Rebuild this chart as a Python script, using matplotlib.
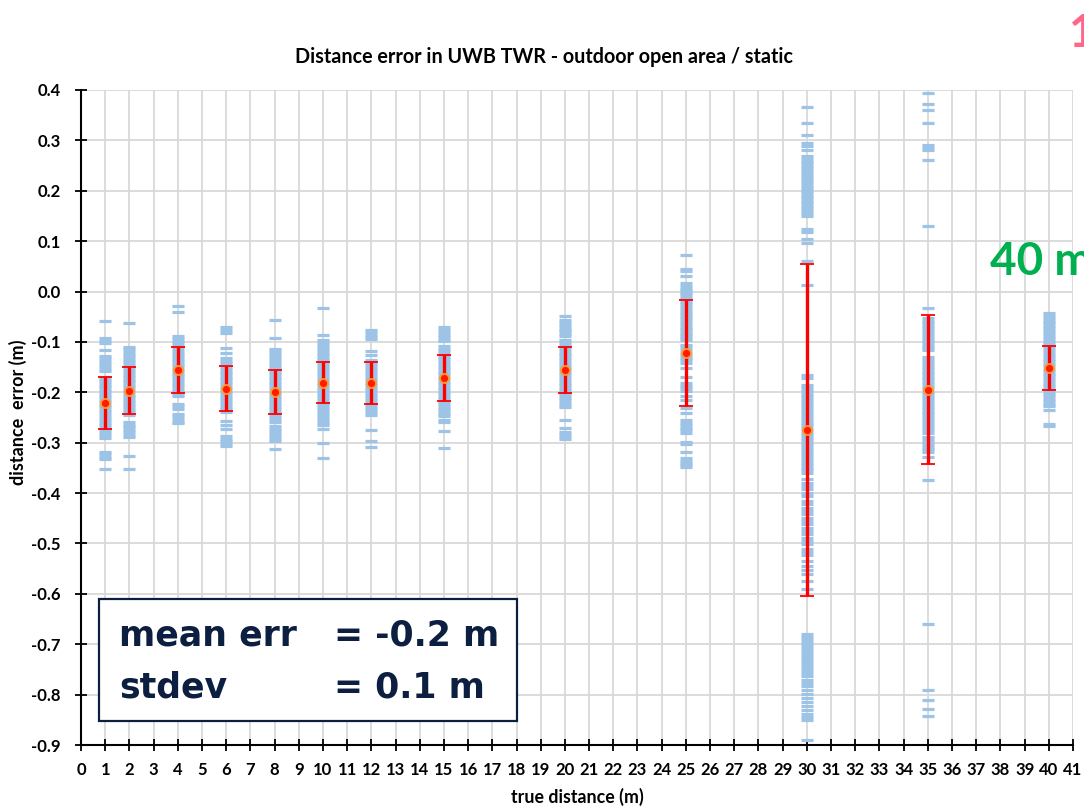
import matplotlib
matplotlib.use('Agg')
import matplotlib.pyplot as plt
from matplotlib.patches import Rectangle

# ---------------- data ----------------
distances = [1, 2, 4, 6, 8, 10, 12, 15, 20, 25, 30, 35, 40]
mean_err = [-0.221, -0.197, -0.156, -0.193, -0.199, -0.181, -0.181, -0.171, -0.156, -0.122, -0.275, -0.195, -0.152]
std_err = [0.051, 0.047, 0.045, 0.045, 0.044, 0.041, 0.042, 0.046, 0.045, 0.106, 0.330, 0.148, 0.043]

d1 = [-0.059, -0.093, -0.098, -0.103, -0.117, -0.127, -0.132, -0.137, -0.142, -0.147, -0.153, -0.157,
      -0.170, -0.175, -0.180, -0.185, -0.190, -0.195, -0.200, -0.205, -0.210, -0.215, -0.220, -0.225,
      -0.230, -0.235, -0.240, -0.245, -0.250, -0.255, -0.260, -0.265, -0.270, -0.275, -0.280, -0.285,
      -0.290, -0.318, -0.323, -0.328, -0.332, -0.352]
d2 = [-0.062, -0.110, -0.115, -0.120, -0.125, -0.130, -0.135, -0.140, -0.145, -0.150, -0.155, -0.160,
      -0.165, -0.170, -0.175, -0.180, -0.185, -0.190, -0.195, -0.200, -0.205, -0.210, -0.215, -0.220,
      -0.225, -0.230, -0.235, -0.240, -0.245, -0.259, -0.264, -0.269, -0.274, -0.279, -0.284, -0.288,
      -0.327, -0.353]
d4 = [-0.028, -0.041, -0.088, -0.093, -0.098, -0.103, -0.108, -0.113, -0.118, -0.123, -0.128, -0.133,
      -0.138, -0.143, -0.148, -0.153, -0.158, -0.163, -0.168, -0.173, -0.178, -0.183, -0.188, -0.193,
      -0.198, -0.203, -0.208, -0.223, -0.228, -0.233, -0.243, -0.248, -0.253, -0.258, -0.261]
d6 = [-0.071, -0.077, -0.083, -0.113, -0.121, -0.132, -0.137, -0.142, -0.149, -0.154, -0.159, -0.164,
      -0.169, -0.174, -0.179, -0.184, -0.189, -0.194, -0.199, -0.204, -0.209, -0.214, -0.219, -0.224,
      -0.229, -0.234, -0.239, -0.256, -0.265, -0.273, -0.287, -0.292, -0.297, -0.302, -0.307]
d8 = [-0.056, -0.093, -0.114, -0.119, -0.124, -0.129, -0.134, -0.139, -0.144, -0.149, -0.154, -0.159,
      -0.164, -0.169, -0.174, -0.179, -0.184, -0.189, -0.194, -0.199, -0.204, -0.209, -0.214, -0.219,
      -0.224, -0.229, -0.234, -0.239, -0.244, -0.249, -0.254, -0.259, -0.266, -0.272, -0.277, -0.282,
      -0.287, -0.292, -0.296, -0.313]
d10 = [-0.033, -0.086, -0.096, -0.101, -0.106, -0.111, -0.116, -0.121, -0.126, -0.131, -0.136, -0.141,
       -0.146, -0.151, -0.156, -0.161, -0.166, -0.171, -0.176, -0.181, -0.186, -0.191, -0.196, -0.201,
       -0.206, -0.211, -0.216, -0.221, -0.226, -0.231, -0.236, -0.241, -0.246, -0.251, -0.256, -0.261,
       -0.265, -0.272, -0.300, -0.331]
d12 = [-0.076, -0.081, -0.086, -0.091, -0.095, -0.119, -0.125, -0.136, -0.141, -0.146, -0.151, -0.156,
       -0.161, -0.166, -0.171, -0.176, -0.181, -0.186, -0.191, -0.196, -0.201, -0.206, -0.211, -0.216,
       -0.221, -0.226, -0.231, -0.236, -0.241, -0.246, -0.275, -0.297, -0.308]
d15 = [-0.071, -0.076, -0.081, -0.086, -0.091, -0.096, -0.099, -0.109, -0.114, -0.119, -0.124, -0.129,
       -0.134, -0.139, -0.144, -0.149, -0.154, -0.159, -0.164, -0.169, -0.174, -0.179, -0.184, -0.189,
       -0.194, -0.199, -0.204, -0.209, -0.214, -0.219, -0.224, -0.229, -0.234, -0.239, -0.244, -0.248,
       -0.255, -0.258, -0.276, -0.311]
d20 = [-0.048, -0.056, -0.061, -0.066, -0.071, -0.076, -0.079, -0.084, -0.089, -0.096, -0.101, -0.106,
       -0.111, -0.116, -0.121, -0.126, -0.131, -0.136, -0.141, -0.146, -0.151, -0.156, -0.161, -0.166,
       -0.171, -0.176, -0.181, -0.186, -0.191, -0.196, -0.201, -0.206, -0.211, -0.216, -0.221, -0.226,
       -0.230, -0.255, -0.271, -0.278, -0.283, -0.288, -0.292]
d25 = [0.073, 0.045, 0.040, 0.031, 0.016, 0.011, 0.006, 0.003, -0.002, -0.007, -0.013, -0.015, -0.020,
       -0.025, -0.030, -0.035, -0.040, -0.045, -0.050, -0.055, -0.060, -0.065, -0.070, -0.075, -0.080,
       -0.085, -0.089, -0.093, -0.096, -0.106, -0.111, -0.116, -0.121, -0.126, -0.131, -0.136, -0.142,
       -0.152, -0.169, -0.182, -0.187, -0.192, -0.198, -0.208, -0.215, -0.232, -0.241, -0.255, -0.260,
       -0.265, -0.270, -0.275, -0.281, -0.298, -0.303, -0.318, -0.331, -0.336, -0.341, -0.345, -0.349]
d30 = [0.366, 0.335, 0.311, 0.295, 0.288, 0.280, 0.270, 0.265, 0.260, 0.255, 0.250, 0.245, 0.240, 0.235,
       0.230, 0.225, 0.220, 0.215, 0.210, 0.205, 0.200, 0.195, 0.190, 0.185, 0.180, 0.175, 0.170, 0.165,
       0.160, 0.155, 0.150, 0.125, 0.118, 0.105, 0.096, 0.060, 0.013, -0.165, -0.172, -0.185, -0.190,
       -0.195, -0.200, -0.205, -0.210, -0.215, -0.220, -0.225, -0.230, -0.235, -0.240, -0.245, -0.250,
       -0.255, -0.260, -0.265, -0.270, -0.275, -0.280, -0.285, -0.290, -0.295, -0.300, -0.305, -0.310,
       -0.315, -0.320, -0.325, -0.330, -0.335, -0.340, -0.345, -0.350, -0.355, -0.360, -0.372, -0.380,
       -0.386, -0.392, -0.400, -0.405, -0.415, -0.422, -0.430, -0.436, -0.442, -0.450, -0.456, -0.462,
       -0.470, -0.476, -0.482, -0.490, -0.496, -0.502, -0.510, -0.516, -0.522, -0.535, -0.545, -0.552,
       -0.560, -0.575, -0.590, -0.680, -0.686, -0.692, -0.698, -0.704, -0.710, -0.716, -0.722, -0.728,
       -0.734, -0.740, -0.746, -0.752, -0.758, -0.764, -0.770, -0.776, -0.782, -0.790, -0.798, -0.806,
       -0.814, -0.822, -0.830, -0.838, -0.845, -0.850, -0.890]
d35 = [0.395, 0.372, 0.360, 0.334, 0.291, 0.286, 0.281, 0.261, 0.131, -0.033, -0.053, -0.058, -0.063,
       -0.068, -0.073, -0.078, -0.083, -0.088, -0.093, -0.098, -0.103, -0.108, -0.113, -0.116, -0.129,
       -0.134, -0.139, -0.144, -0.149, -0.154, -0.159, -0.164, -0.169, -0.174, -0.179, -0.184, -0.189,
       -0.194, -0.199, -0.204, -0.209, -0.214, -0.219, -0.224, -0.229, -0.234, -0.239, -0.244, -0.249,
       -0.254, -0.259, -0.264, -0.269, -0.274, -0.281, -0.288, -0.293, -0.298, -0.303, -0.308, -0.313,
       -0.318, -0.328, -0.375, -0.660, -0.790, -0.810, -0.828, -0.842]
d40 = [-0.043, -0.048, -0.053, -0.058, -0.063, -0.068, -0.073, -0.078, -0.083, -0.088, -0.093, -0.098,
       -0.103, -0.108, -0.113, -0.118, -0.123, -0.128, -0.133, -0.138, -0.143, -0.148, -0.153, -0.158,
       -0.163, -0.168, -0.173, -0.178, -0.183, -0.188, -0.193, -0.198, -0.203, -0.208, -0.213, -0.218,
       -0.223, -0.228, -0.235, -0.262, -0.267]
samples = [d1, d2, d4, d6, d8, d10, d12, d15, d20, d25, d30, d35, d40]

x_ticks = list(range(0, 42))
y_ticks = [0.4, 0.3, 0.2, 0.1, 0.0, -0.1, -0.2, -0.3, -0.4, -0.5, -0.6, -0.7, -0.8, -0.9]

# ---------------- figure ----------------
W, H = 1084, 808
fig = plt.figure(figsize=(W / 100, H / 100), dpi=100)
ax = fig.add_axes([81 / W, 63 / H, (1073 - 81) / W, (745 - 90) / H])

FONT = 'Lato'

for d, vals in zip(distances, samples):
    ax.plot([d] * len(vals), vals, linestyle='none', marker='_', ms=8.5, mew=2.3,
            color='#9dc3e6', zorder=2)

ax.errorbar(distances, mean_err, yerr=std_err, fmt='o', color='red', ecolor='#ff0000',
            elinewidth=2.4, capsize=5, capthick=2.4, ms=6.5, mfc='#ff1a00', mec='#ff9933',
            mew=1.3, zorder=4)

ax.set_xlim(0, 41)
ax.set_ylim(-0.9, 0.4)
ax.set_xticks(x_ticks)
ax.set_xticklabels([str(t) for t in x_ticks])
ax.set_yticks(y_ticks)
ax.set_yticklabels([f'{t:.1f}' for t in y_ticks])

ax.grid(True, color='#d9d9d9', lw=1.3)
ax.set_axisbelow(True)
for s in ['top', 'right']:
    ax.spines[s].set_visible(False)
for s in ['left', 'bottom']:
    ax.spines[s].set_linewidth(1.5)
    ax.spines[s].set_color('black')

ax.tick_params(axis='both', direction='inout', length=9, width=1.3, colors='black')
ax.tick_params(axis='x', pad=8)
ax.tick_params(axis='y', pad=10)
for lab in ax.get_xticklabels() + ax.get_yticklabels():
    lab.set_fontfamily(FONT)
    lab.set_fontweight('bold')
    lab.set_fontsize(12)

fig.text(544 / W, 1 - 57 / H, 'Distance error in UWB TWR - outdoor open area / static',
         ha='center', va='center', fontsize=14.2, fontweight='bold', family=FONT)
fig.text(577 / W, 1 - 797 / H, 'true distance (m)', ha='center', va='center',
         fontsize=12.8, fontweight='bold', family=FONT)
fig.text(18 / W, 1 - 412 / H, 'distance  error (m)', ha='center', va='center', rotation=90,
         fontsize=13, fontweight='bold', family=FONT)

# summary box
box = Rectangle((99 / W, 1 - 721 / H), (517 - 99) / W, (721 - 599) / H, transform=fig.transFigure,
                fc='white', ec='#0d1f40', lw=1.6, zorder=10)
fig.add_artist(box)
navy = '#0d1f40'
for label, val, yc in [('mean err', '= -0.2 m', 636), ('stdev', '= 0.1 m', 688)]:
    fig.text(119 / W, 1 - yc / H, label, ha='left', va='center', fontsize=25,
             fontweight='bold', color=navy, family='DejaVu Sans', zorder=11)
    fig.text(334 / W, 1 - yc / H, val, ha='left', va='center', fontsize=25,
             fontweight='bold', color=navy, family='DejaVu Sans', zorder=11)

fig.text(990 / W, 1 - 275 / H, '40 m', ha='left', va='baseline', fontsize=33,
         fontweight='bold', color='#00b050', family=FONT)
fig.text(1068 / W, 1 - 47 / H, '1', ha='left', va='baseline', fontsize=33,
         fontweight='bold', color='#ff6688', family=FONT)

fig.savefig('out.png', dpi=100)
